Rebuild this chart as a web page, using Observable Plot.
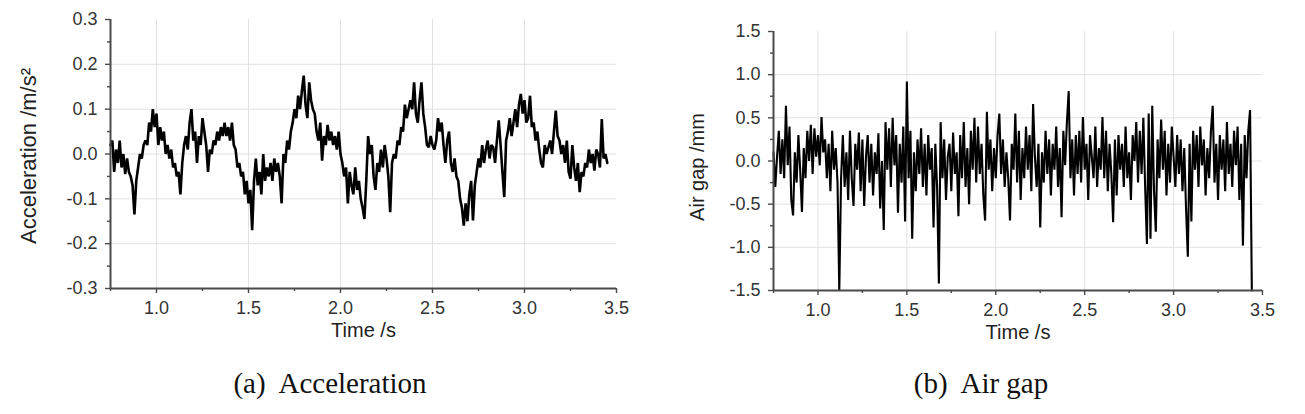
<!DOCTYPE html>
<html><head><meta charset="utf-8">
<script src="https://cdn.jsdelivr.net/npm/d3@7"></script>
<script src="https://cdn.jsdelivr.net/npm/@observablehq/plot@0.6"></script>
<style>
body{margin:0;background:#fff;width:1305px;height:414px;overflow:hidden;position:relative;font-family:"Liberation Sans",Arial,sans-serif}
#a{position:absolute;left:0;top:0}
#b{position:absolute;left:660px;top:0}
svg text{font-family:"Liberation Sans",Arial,sans-serif}
.cap{position:absolute;top:369px;line-height:29px;font-family:"Liberation Serif","Times New Roman",serif;font-size:29px;color:#111;transform:translateX(-50%);white-space:pre}
</style></head><body>
<div id="a"></div><div id="b"></div>
<div class="cap" style="left:330px">(a)  Acceleration</div>
<div class="cap" style="left:981px">(b)  Air gap</div>
<script>
// sampling: first sample time and step (s)
const t0 = 0.75, dt = 0.01;

// Acceleration (m/s^2), one value per 0.01 s from 0.75 s
const accel = [
0.02,0.03,-0.04,0.01,-0.02,0.03,-0.03,0.00,-0.045,-0.01,
-0.04,-0.05,-0.07,-0.135,-0.06,-0.03,0.00,-0.01,0.02,0.03,
0.02,0.07,0.05,0.10,0.06,0.09,0.02,0.06,0.03,0.05,
0.00,0.02,-0.01,0.01,-0.03,-0.02,-0.05,-0.04,-0.09,-0.02,
0.02,0.04,0.01,0.07,0.10,0.03,0.05,-0.02,0.04,0.02,
0.08,0.05,0.02,-0.04,0.01,0.00,0.03,0.02,0.05,0.03,
0.06,0.04,0.07,0.04,0.06,0.03,0.07,0.02,0.01,-0.03,
-0.02,-0.05,-0.04,-0.09,-0.06,-0.11,-0.08,-0.17,-0.06,-0.01,
-0.07,-0.04,-0.09,0.00,-0.06,-0.03,-0.05,-0.02,-0.06,-0.01,
-0.04,-0.02,-0.05,-0.11,0.00,-0.02,0.03,0.01,0.05,0.07,
0.10,0.08,0.13,0.10,0.14,0.175,0.11,0.08,0.16,0.12,
0.10,0.09,0.05,0.03,0.07,-0.015,0.04,0.02,0.065,0.03,
0.05,0.02,0.04,0.01,0.05,0.00,-0.02,-0.05,-0.03,-0.11,
-0.04,-0.07,-0.09,-0.03,-0.08,-0.06,-0.10,-0.12,-0.145,-0.06,
0.04,0.00,0.02,-0.05,-0.08,-0.02,-0.04,0.01,-0.03,0.02,
-0.01,-0.05,-0.13,-0.02,0.00,-0.01,0.03,0.02,0.06,0.05,
0.11,0.08,0.10,0.12,0.10,0.16,0.09,0.07,0.12,0.16,
0.09,0.06,0.02,0.015,0.04,0.02,0.01,0.03,0.08,0.05,
0.07,0.02,-0.02,0.03,0.05,-0.02,-0.04,-0.01,-0.05,-0.06,
-0.10,-0.12,-0.16,-0.11,-0.15,-0.09,-0.06,-0.148,-0.07,-0.04,
-0.01,-0.03,0.02,-0.02,0.01,0.03,-0.01,0.02,0.015,-0.02,
0.03,0.075,0.02,-0.04,-0.096,0.03,0.05,0.08,0.04,0.07,
0.10,0.06,0.11,0.134,0.09,0.12,0.07,0.08,0.13,0.06,
0.07,0.03,0.05,0.01,-0.02,-0.03,0.02,0.00,0.015,0.03,
0.00,0.05,0.097,0.04,0.03,0.00,0.02,-0.02,0.03,-0.04,
-0.055,0.02,-0.03,-0.06,-0.02,-0.085,-0.04,-0.05,-0.02,-0.03,
0.01,-0.02,0.00,-0.037,0.01,0.00,-0.03,0.078,-0.01,0.00,
-0.02
];

// Air gap (mm), one value per 0.01 s from 0.75 s
const airGap = [
0.10,-0.30,0.05,0.35,-0.15,0.25,-0.20,0.64,-0.05,0.40,
-0.45,-0.63,0.10,-0.25,0.30,-0.10,-0.59,0.15,-0.20,0.35,
0.00,0.42,-0.15,0.38,0.05,0.30,-0.05,0.51,0.10,0.25,
-0.20,0.20,-0.35,0.35,-0.10,0.15,-0.25,-1.50,-0.20,0.30,
-0.30,0.10,-0.45,0.35,-0.20,-0.52,0.20,-0.10,0.33,-0.35,
0.25,-0.52,0.05,0.30,-0.25,0.20,-0.40,0.10,-0.15,0.32,
-0.55,0.00,-0.80,0.45,-0.10,0.38,-0.30,0.50,-0.05,0.30,
-0.60,0.20,-0.25,0.40,-0.70,0.92,-0.20,0.35,-0.90,0.10,
-0.35,0.25,-0.15,0.38,-0.30,0.20,-0.40,0.30,-0.10,0.15,
-0.77,0.20,-0.30,-1.42,0.45,-0.20,0.25,-0.45,0.05,0.20,
-0.35,0.33,-0.15,0.10,-0.64,0.30,-0.20,0.45,-0.30,0.15,
-0.50,0.35,-0.10,0.50,-0.25,0.40,-0.15,0.20,-0.40,-0.69,
0.57,-0.10,0.25,-0.35,0.15,-0.20,0.30,0.55,-0.15,0.25,
-0.30,0.10,-0.20,-0.69,0.20,-0.10,0.55,-0.25,0.35,-0.45,
0.15,-0.20,0.40,-0.10,0.30,-0.35,0.66,0.05,-0.30,0.20,
-0.77,0.10,-0.25,0.35,-0.15,0.25,-0.40,0.20,-0.10,0.40,
-0.30,0.15,-0.65,0.35,-0.05,0.45,0.81,-0.20,0.25,-0.40,
0.30,-0.15,0.35,-0.25,0.51,-0.10,0.20,-0.45,0.30,0.05,
-0.20,0.40,-0.30,0.15,-0.10,0.51,-0.20,0.35,-0.35,0.20,
-0.15,-0.71,0.25,-0.40,0.30,-0.10,0.20,-0.30,0.40,-0.20,
0.10,-0.45,0.30,0.00,0.45,-0.25,0.35,-0.15,0.50,-0.30,
-0.96,0.55,-0.90,0.64,-0.35,-0.82,0.25,-0.20,0.48,-0.10,
0.35,-0.40,0.20,-0.25,0.40,0.05,-0.30,0.30,-0.15,0.25,
-0.35,0.15,-0.55,-1.11,0.20,-0.70,0.35,-0.10,0.30,-0.30,
0.40,-0.05,0.25,-0.40,0.15,-0.20,0.35,0.64,-0.25,0.20,
-0.45,0.30,-0.10,0.25,-0.35,0.45,-0.15,0.20,-0.30,0.35,
-0.05,0.40,-0.45,0.20,-0.98,0.30,-0.20,0.35,0.59,-1.50
];

const timeTicks = [1.0,1.5,2.0,2.5,3.0,3.5];
const timeMinor = [0.75,1.25,1.75,2.25,2.75,3.25];
const timeGrid = [1.0,1.5,2.0,2.5,3.0];

const accelTicks = [-0.3,-0.2,-0.1,0.0,0.1,0.2,0.3];
const accelMinor = [-0.25,-0.15,-0.05,0.05,0.15,0.25];
const accelGrid = [-0.2,-0.1,0.0,0.1,0.2];

const gapTicks = [-1.5,-1.0,-0.5,0.0,0.5,1.0,1.5];
const gapMinor = [-1.25,-0.75,-0.25,0.25,0.75,1.25];
const gapGrid = [-1.0,-0.5,0.0,0.5,1.0];

const xLabel = "Time /s";
const accelLabel = "Acceleration /m/s²";
const gapLabel = "Air gap /mm";

const AX = "#4a4a4a", TXT = "#333";
const FONT = '"Liberation Sans", Arial, sans-serif';

function panel(o) {
  const data = o.values.map((v, i) => ({t: t0 + i * dt, v}));
  return Plot.plot({
    width: o.width, height: o.height,
    marginLeft: o.ml, marginRight: o.mr, marginTop: o.mt, marginBottom: o.mb,
    style: {fontFamily: FONT, fontSize: "18px", color: TXT, background: "#fff"},
    x: {domain: [0.75, 3.5]},
    y: {domain: o.yDomain},
    marks: [
      Plot.gridX(timeGrid, {stroke: "#e2e2e2", strokeOpacity: 1, strokeWidth: 1}),
      Plot.gridY(o.yGrid, {stroke: "#e2e2e2", strokeOpacity: 1, strokeWidth: 1}),
      Plot.line(data, {x: "t", y: "v", stroke: "#000", strokeWidth: o.lineWidth, strokeLinejoin: "miter"}),
      Plot.ruleX([0.75], {stroke: AX, strokeWidth: 2}),
      Plot.ruleY([o.yDomain[0]], {stroke: AX, strokeWidth: 2}),
      Plot.axisX(timeMinor, {tickSize: 3, text: null, label: null, stroke: AX, strokeWidth: 1.4}),
      Plot.axisX(timeTicks, {tickSize: 5, tickPadding: 8, tickFormat: d => d.toFixed(1), label: null, stroke: AX, strokeWidth: 1.4, fill: TXT, fontSize: 18, fontFamily: FONT}),
      Plot.axisY(o.yMinor, {tickSize: 3, text: null, label: null, stroke: AX, strokeWidth: 1.4}),
      Plot.axisY(o.yTicks, {tickSize: 5, tickPadding: 8, tickFormat: d => d.toFixed(1), label: null, stroke: AX, strokeWidth: 1.4, fill: TXT, fontSize: 18, fontFamily: FONT}),
      Plot.text([xLabel], {frameAnchor: "bottom", dy: o.xLabelDy, lineAnchor: "middle", fontSize: 20, fill: "#222", fontFamily: FONT}),
      Plot.text([o.yLabel], {frameAnchor: "left", dx: -o.yLabelDx, dy: o.yLabelDy, rotate: -90, textAnchor: "middle", lineAnchor: "middle", fontSize: o.yLabelSize, fill: "#222", fontFamily: FONT})
    ]
  });
}

document.getElementById("a").append(panel({
  values: accel, yDomain: [-0.3, 0.3], yTicks: accelTicks, yMinor: accelMinor, yGrid: accelGrid,
  yLabel: accelLabel, width: 650, height: 345, ml: 110, mr: 34, mt: 19, mb: 57,
  xLabelDy: 42, yLabelDx: 82, yLabelDy: 2, yLabelSize: 22, lineWidth: 2.6
}));
document.getElementById("b").append(panel({
  values: airGap, yDomain: [-1.5, 1.5], yTicks: gapTicks, yMinor: gapMinor, yGrid: gapGrid,
  yLabel: gapLabel, width: 645, height: 345, ml: 113, mr: 43, mt: 31, mb: 55,
  xLabelDy: 42, yLabelDx: 76, yLabelDy: 6, yLabelSize: 20, lineWidth: 2.1
}));
</script>
</body></html>
